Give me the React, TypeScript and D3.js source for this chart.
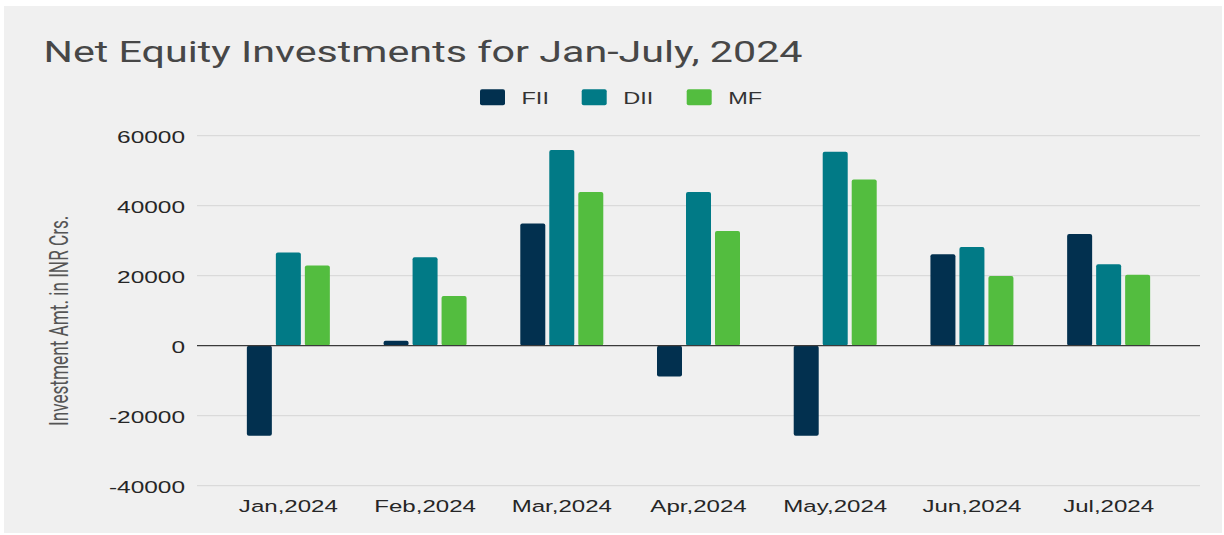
import React from "react";
import * as d3 from "d3";

const months = ["Jan,2024", "Feb,2024", "Mar,2024", "Apr,2024", "May,2024", "Jun,2024", "Jul,2024"];
const seriesNames = ["FII", "DII", "MF"];
const fiiValues = [-25700, 1400, 34900, -8800, -25700, 26100, 31900];
const diiValues = [26600, 25300, 55900, 43900, 55400, 28200, 23300];
const mfValues = [22900, 14200, 43900, 32800, 47500, 19900, 20300];
const yTicks = [-40000, -20000, 0, 20000, 40000, 60000];
const colors = ["#02304f", "#017a86", "#53bd3f"];

const W = 1224;
const H = 535;

export default function App() {
  const values = [fiiValues, diiValues, mfValues];
  const y = d3.scaleLinear().domain([-40000, 60000]).range([485.7, 135.7]);
  const x0 = d3.scaleBand<string>().domain(months).range([220, 1177]).padding(0);
  const x1 = d3.scaleBand<string>().domain(seriesNames).range([0, 83]).paddingInner(4 / 29).paddingOuter(0);
  const gridLeft = 197;
  const gridRight = 1200;

  const legendX = [480, 581.7, 686.7];

  return (
    <svg
      width={W}
      height={H}
      style={{ position: "absolute", left: 0, top: 0, display: "block" }}
    >
      <rect x={0} y={0} width={W} height={H} fill="#ffffff" />
      <rect x={4} y={6} width={1218} height={527} fill="#f0f0f0" />

      <text
        x={43.5}
        y={62}
        fontFamily="Roboto"
        fontSize={29.5}
        fill="#474747"
        textLength={759}
        lengthAdjust="spacingAndGlyphs"
      >
        Net Equity Investments for Jan-July, 2024
      </text>

      {seriesNames.map((s, i) => (
        <g key={s}>
          <rect x={legendX[i]} y={89.3} width={25} height={16} rx={2} fill={colors[i]} />
          <text
            transform={`translate(${legendX[i] + 41.5},104.3) scale(1.4,1)`}
            fontFamily="'Liberation Sans', Arial, sans-serif"
            fontSize={16.8}
            fill="#333"
          >
            {s}
          </text>
        </g>
      ))}

      {yTicks.map((t) => (
        <g key={t}>
          {t !== 0 && (
            <line x1={gridLeft} x2={gridRight} y1={y(t)} y2={y(t)} stroke="#dadada" strokeWidth={1.2} />
          )}
          <text
            transform={`translate(185,${y(t) + 7.6}) scale(1.5,1)`}
            textAnchor="end"
            fontFamily="'Liberation Sans', Arial, sans-serif"
            fontSize={16.3}
            fill="#262626"
          >
            {t}
          </text>
        </g>
      ))}

      <text
        transform={`translate(68.3,320.8) scale(1.45,1) rotate(-90)`}
        textAnchor="middle"
        fontFamily="Roboto"
        fontSize={17.2}
        fill="#555"
      >
        Investment Amt. in INR Crs.
      </text>

      {months.map((m, mi) => (
        <g key={m} transform={`translate(${(x0(m) as number) + x0.bandwidth() / 2},0)`}>
          {seriesNames.map((s, si) => {
            const v = values[si][mi];
            const top = y(Math.max(0, v));
            const h = Math.abs(y(v) - y(0));
            return (
              <rect
                key={s}
                x={-41.5 + (x1(s) as number)}
                y={top}
                width={x1.bandwidth()}
                height={h}
                rx={2}
                fill={colors[si]}
              />
            );
          })}
          <text
            transform={`translate(0,512.3) scale(1.4,1)`}
            textAnchor="middle"
            fontFamily="'Liberation Sans', Arial, sans-serif"
            fontSize={17.2}
            fill="#262626"
          >
            {m}
          </text>
        </g>
      ))}

      <line x1={gridLeft} x2={gridRight} y1={y(0)} y2={y(0)} stroke="#3a3a3a" strokeWidth={1.3} />
    </svg>
  );
}
